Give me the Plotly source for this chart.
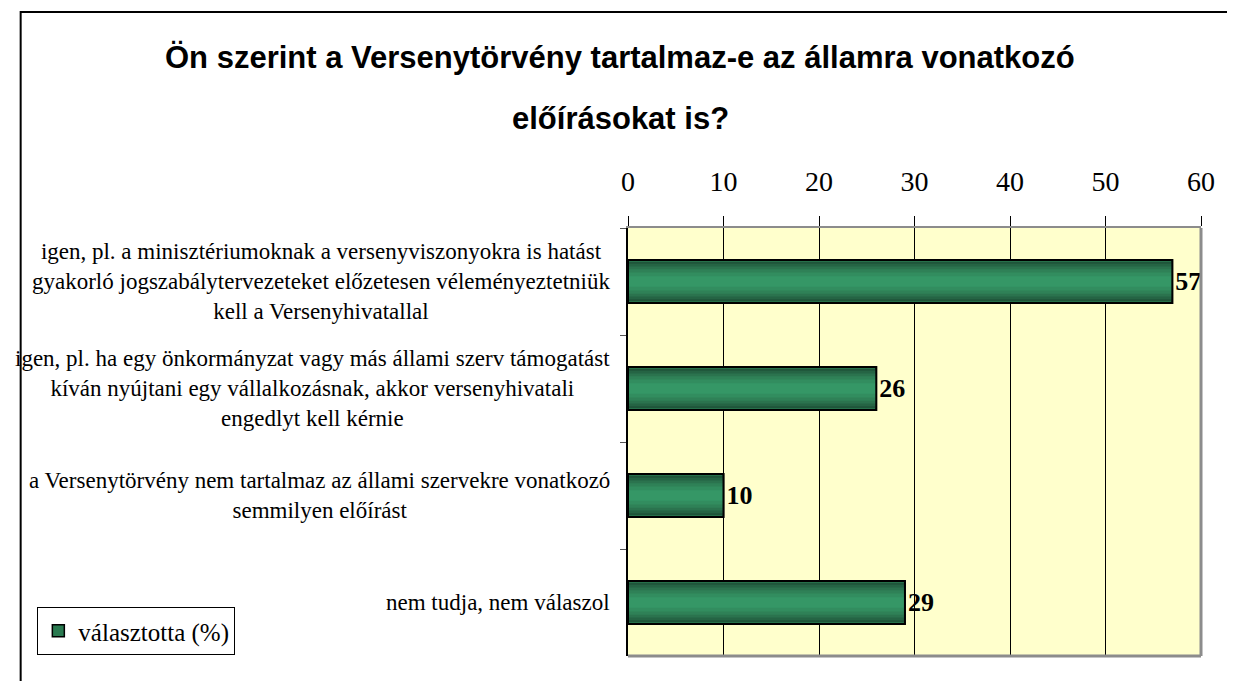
import plotly.graph_objects as go

categories = [
    "igen, pl. a minisztériumoknak a versenyviszonyokra is hatást<br>gyakorló jogszabálytervezeteket előzetesen véleményeztetniük<br>kell a Versenyhivatallal",
    "igen, pl. ha egy önkormányzat vagy más állami szerv támogatást<br>kíván nyújtani egy vállalkozásnak, akkor versenyhivatali<br>engedlyt kell kérnie",
    "a Versenytörvény nem tartalmaz az állami szervekre vonatkozó<br>semmilyen előírást",
    "nem tudja, nem válaszol",
]
values = [57, 26, 10, 29]
series_name = "választotta (%)"
title_lines = ["Ön szerint a Versenytörvény tartalmaz-e az államra vonatkozó", "előírásokat is?"]
x_ticks = [0, 10, 20, 30, 40, 50, 60]

# page geometry (pixels, in the browser window); the page body has an 8px margin
OFF = 8
W, H = 1235 - 2 * OFF, 689 - 2 * OFF
L, R, T, B = 628, 1212, 228, 656  # plot area in page pixels
pw, ph = R - L, B - T

def px_x(x):
    return (x - L) / pw

def px_y(y):
    return (B - y) / ph

cat_ids = [f"c{i}" for i in range(len(categories))]

# simulated cylinder shading: layered bars, dark edges to light centre
layers = [
    (0.40, "#1a4730"),
    (0.37, "#1f553a"),
    (0.33, "#256444"),
    (0.28, "#2b734e"),
    (0.23, "#2f8157"),
    (0.17, "#328d5f"),
    (0.10, "#359766"),
]

fig = go.Figure()
for i, (w, c) in enumerate(layers):
    fig.add_trace(go.Bar(
        x=values, y=cat_ids, orientation="h", width=w,
        marker=dict(color=c if i else "#2a7a50", line=dict(width=1.5 if i == 0 else 0, color="black")),
        name=series_name, showlegend=(i == 0), hoverinfo="skip",
    ))
# outline + value labels
fig.add_trace(go.Bar(
    x=values, y=cat_ids, orientation="h", width=layers[0][0],
    marker=dict(color="rgba(0,0,0,0)", line=dict(width=2, color="black")),
    text=[str(v) for v in values], textposition="outside",
    textfont=dict(family="Liberation Serif", size=26, color="black", weight="bold"),
    cliponaxis=False, showlegend=False, name=series_name,
))

annotations = []
for cid, lab in zip(cat_ids, categories):
    annotations.append(dict(
        x=px_x(612), xref="paper", y=cid, yref="y", xanchor="right", yanchor="middle",
        align="center", text=lab, showarrow=False,
        font=dict(family="Liberation Serif", size=23, color="black"),
    ))
for ty, line in zip([58, 118], title_lines):
    annotations.append(dict(
        x=px_x(620), xref="paper", y=px_y(ty), yref="paper", xanchor="center", yanchor="middle",
        text=f"<b>{line}</b>", showarrow=False,
        font=dict(family="Liberation Sans", size=31, color="black"),
    ))

shapes = [
    # outer chart frame (runs off the window on the right and bottom)
    dict(type="rect", xref="paper", yref="paper", x0=px_x(9), x1=px_x(1260), y0=px_y(720), y1=px_y(12),
         line=dict(color="black", width=2), fillcolor="rgba(0,0,0,0)", layer="above"),
    # plot area right/bottom border (grey)
    dict(type="line", xref="paper", yref="paper", x0=1, x1=1, y0=0, y1=1, line=dict(color="#8c8c8c", width=3)),
    dict(type="line", xref="paper", yref="paper", x0=0, x1=1, y0=0, y1=0, line=dict(color="#8c8c8c", width=3)),
]

fig.update_layout(
    width=W, height=H,
    margin=dict(l=L - OFF, r=W - (R - OFF), t=T - OFF, b=H - (B - OFF)),
    paper_bgcolor="white", plot_bgcolor="#FFFFCC",
    barmode="overlay", bargap=0.6,
    font=dict(family="Liberation Serif", color="black"),
    annotations=annotations, shapes=shapes,
    showlegend=True,
    legend=dict(
        x=px_x(26), y=px_y(607), xref="paper", yref="paper", xanchor="left", yanchor="top",
        bordercolor="black", borderwidth=1, bgcolor="white",
        font=dict(family="Liberation Serif", size=25, color="black"),
        itemwidth=30,
    ),
    xaxis=dict(
        side="top", range=[0, 60], tickvals=x_ticks, ticktext=[str(t) for t in x_ticks],
        showgrid=True, gridcolor="black", gridwidth=1, zeroline=False,
        ticks="outside", ticklen=10, tickcolor="black", tickwidth=1,
        tickfont=dict(family="Liberation Serif", size=28, color="black"),
        ticklabelstandoff=14,
        showline=True, linecolor="#8c8c8c", linewidth=2,
    ),
    yaxis=dict(
        type="category", categoryorder="array", categoryarray=cat_ids,
        range=[len(cat_ids) - 0.5, -0.5],
        showticklabels=False, tickson="boundaries", ticks="outside", ticklen=6,
        tickcolor="#555555", showgrid=False, zeroline=False,
        showline=True, linecolor="black", linewidth=1.5,
    ),
)

fig.write_html("out.html")
